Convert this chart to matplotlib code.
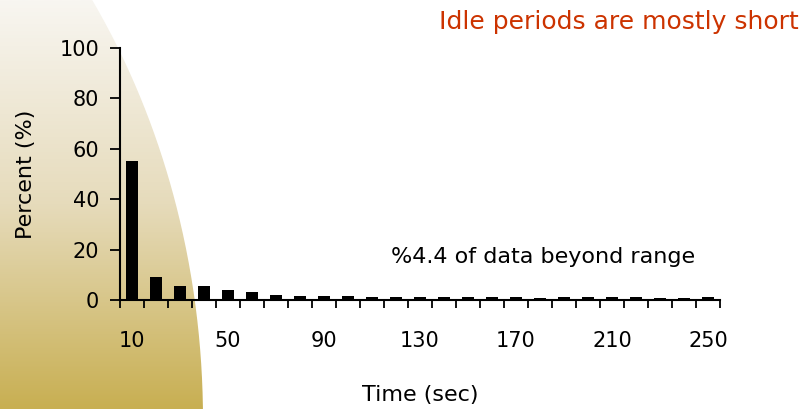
import numpy as np
import matplotlib
matplotlib.use("Agg")
import matplotlib.pyplot as plt
from matplotlib.path import Path
from matplotlib.patches import PathPatch
from matplotlib.colors import LinearSegmentedColormap

# ---- data ----
time_labels = [10, 20, 30, 40, 50, 60, 70, 80, 90, 100, 110, 120, 130, 140, 150,
               160, 170, 180, 190, 200, 210, 220, 230, 240, 250]
percent = [55.3, 9.2, 5.7, 5.5, 4.0, 3.2, 1.8, 1.7, 1.7, 1.7, 1.1, 1.1, 1.0, 1.0, 1.1,
           1.1, 1.0, 0.9, 1.0, 1.1, 1.0, 1.0, 0.9, 0.9, 1.1]
shown_labels = [10, 50, 90, 130, 170, 210, 250]
y_ticks = [0, 20, 40, 60, 80, 100]

W, H = 806, 409
fig = plt.figure(figsize=(W / 100, H / 100), dpi=100)
fig.patch.set_facecolor("white")

# ---- background gradient shape (figure pixel coords) ----
bg = fig.add_axes([0, 0, 1, 1], zorder=0)
bg.set_xlim(0, W)
bg.set_ylim(H, 0)
bg.axis("off")
cmap = LinearSegmentedColormap.from_list("g", ["#F8F6F1", "#E6DBBB", "#C8AF52"])
grad = np.linspace(0, 1, 256).reshape(-1, 1)
im = bg.imshow(grad, cmap=cmap, extent=[0, W, H, 0], aspect="auto")
cx, cy, a, b = -400.0, 420.0, 603.0, 727.0
ys = np.linspace(0, H, 200)
xs = cx + a * np.sqrt(np.clip(1 - ((cy - ys) / b) ** 2, 0, 1))
verts = [(0, 0)] + list(zip(xs, ys)) + [(0, H), (0, 0)]
clip = PathPatch(Path(verts), transform=bg.transData, facecolor="none", edgecolor="none")
bg.add_patch(clip)
im.set_clip_path(clip)

# ---- main axes ----
left, right, bottom, top = 120, 720, 300, 48
ax = fig.add_axes([left / W, (H - bottom) / H, (right - left) / W, (bottom - top) / H], zorder=1)
ax.patch.set_alpha(0)
n = len(percent)
pos = np.arange(n) + 0.5
ax.bar(pos, percent, width=0.48, color="black")
ax.set_xlim(0, n)
ax.set_ylim(0, 100)
for s in ["top", "right"]:
    ax.spines[s].set_visible(False)
for s in ["left", "bottom"]:
    ax.spines[s].set_linewidth(1.5)
    ax.spines[s].set_color("black")

ax.set_yticks(y_ticks)
ax.set_yticklabels([str(v) for v in y_ticks], fontsize=15)
ax.tick_params(axis="y", direction="out", length=7, width=1.3, pad=8)

ax.set_xticks(np.arange(n + 1), minor=False)
ax.set_xticklabels([])
ax.tick_params(axis="x", which="major", direction="out", length=6, width=1.3)
ax.set_xticks([pos[time_labels.index(v)] for v in shown_labels], minor=True)
ax.set_xticklabels([str(v) for v in shown_labels], minor=True, fontsize=15)
ax.tick_params(axis="x", which="minor", length=0, pad=22)

ax.set_xlabel("Time (sec)", fontsize=16, labelpad=25)
ax.set_ylabel("Percent (%)", fontsize=16, labelpad=17)

ax.text(11.3, 17, "%4.4 of data beyond range", fontsize=16, ha="left", va="center")

fig.text(799 / W, 1 - 22 / H, "Idle periods are mostly short", color="#CC3300",
         fontsize=18, ha="right", va="center")

fig.savefig("out.png", dpi=100)
